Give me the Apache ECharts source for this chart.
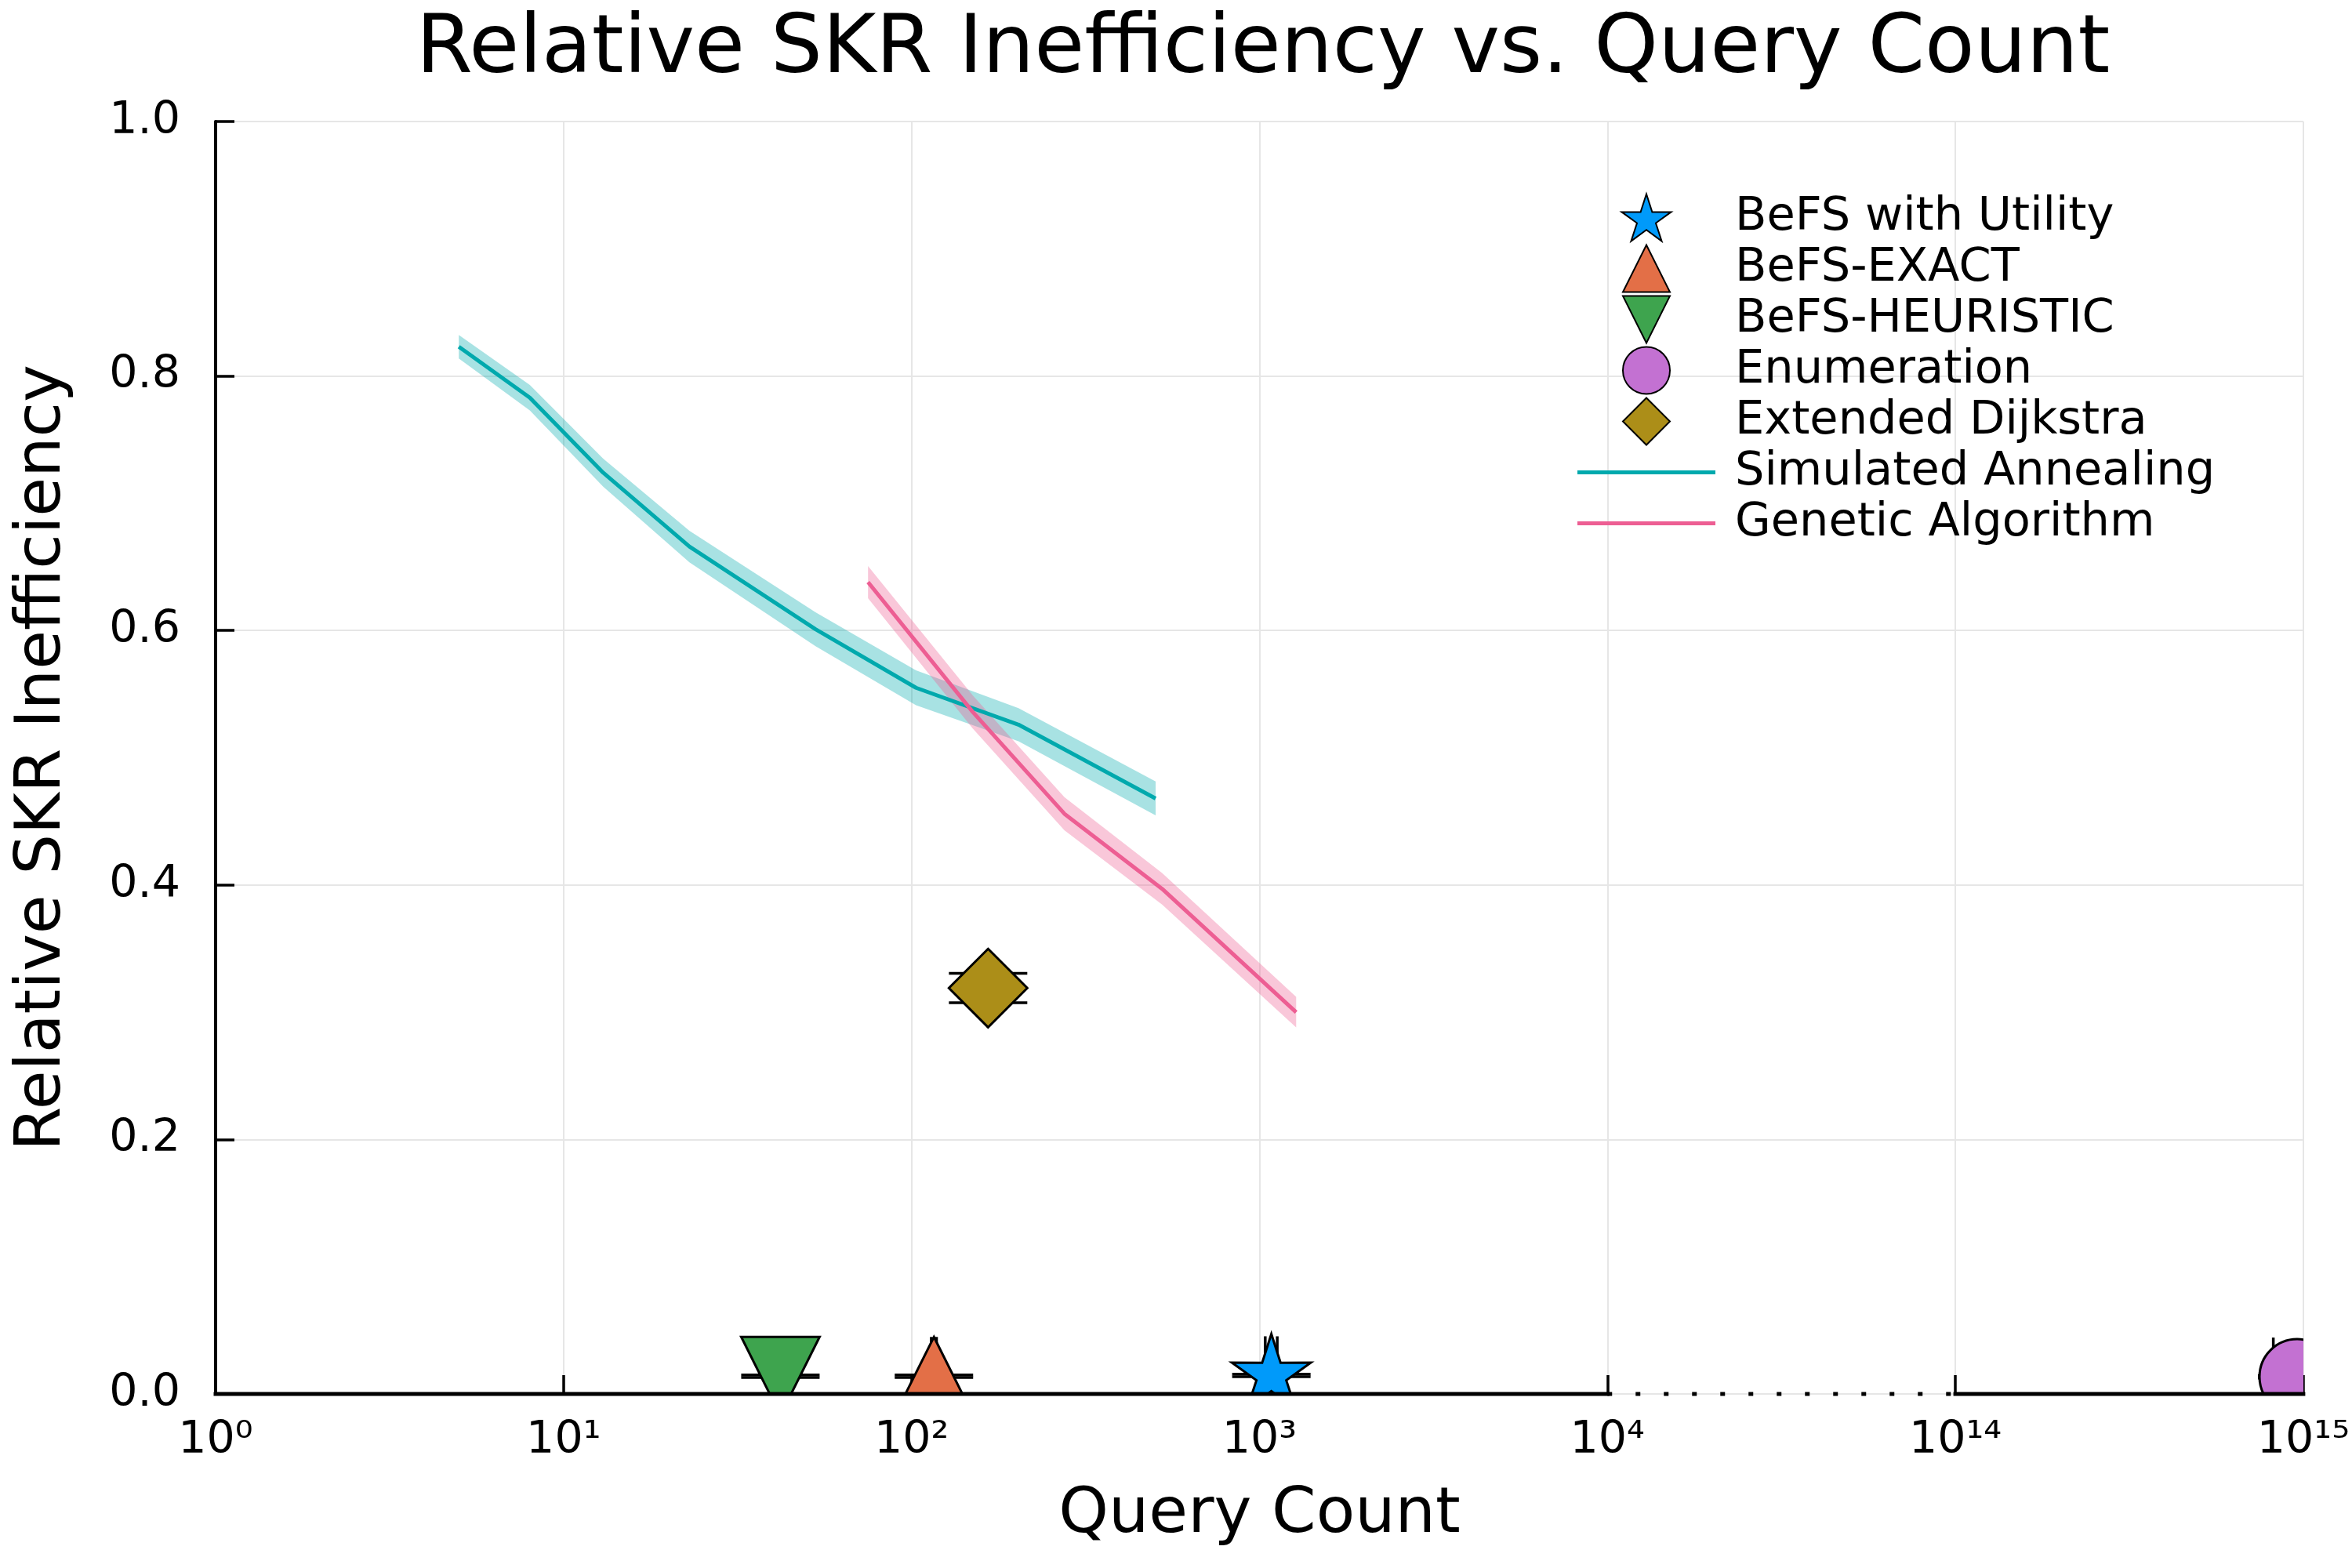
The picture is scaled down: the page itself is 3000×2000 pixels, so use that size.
<!DOCTYPE html>
<html>
    <head>
        <meta charset="utf-8">
        <title>Relative SKR Inefficiency vs. Query Count</title>
        <style>html,body{margin:0;padding:0;background:#fff}#chart{width:3000px;height:2000px}</style>
    </head>
    <body>
        <div id="chart"></div>
        <script type="text/javascript" src="https://cdn.jsdelivr.net/npm/echarts@6/dist/echarts.min.js"></script>
        <script>
            // tick labels of the broken log axis (10^4 .. 10^14 collapsed into one step)
            const tickLabels = ['10⁰', '10¹', '10²', '10³', '10⁴', '10¹⁴', '10¹⁵'];

            // Simulated Annealing: query count, mean inefficiency, ribbon half width
            const saQueries = [5, 8, 13, 23, 53, 103, 203, 503];
            const saMean = [0.823, 0.783, 0.724, 0.666, 0.601, 0.555, 0.526, 0.468];
            const saSpread = [0.0093, 0.010, 0.011, 0.0124, 0.0133, 0.0137, 0.013, 0.0133];

            // Genetic Algorithm
            const gaQueries = [75, 150, 275, 525, 1275];
            const gaMean = [0.638, 0.536, 0.456, 0.397, 0.300];
            const gaSpread = [0.0126, 0.013, 0.013, 0.0124, 0.012];

            // single-point methods
            const methodNames = ['BeFS with Utility', 'BeFS-EXACT', 'BeFS-HEURISTIC', 'Enumeration', 'Extended Dijkstra'];
            const methodQueries = [1082, 116, 42, 9.6e14, 166];
            const methodQueryErr = [43, 2, 1, 1.4e14, 0];
            const methodIneff = [0.0145, 0.014, 0.014, 0.0135, 0.319];
            const methodIneffErr = [0.001, 0.001, 0.001, 0.001, 0.0115];

            const methodColors = ['#009AFA', '#E36F47', '#3EA44E', '#C371D2', '#AC8E18'];
            const methodShapes = ['star', 'utriangle', 'dtriangle', 'circle', 'diamond'];
            const FONT = 'DejaVu Sans';

            // value -> position on the broken axis
            function toPos(v) {
                const e = Math.log10(v);
                return e <= 4 ? e : e - 9;
            }

            function starPoints(cx, cy, R, r) {
                const pts = [];
                for (let k = 0; k < 10; k++) {
                    const a = -Math.PI / 2 + k * Math.PI / 5;
                    const rad = k % 2 === 0 ? R : r;
                    pts.push([cx + rad * Math.cos(a), cy + rad * Math.sin(a)]);
                }
                return pts;
            }

            function markerShape(shape, cx, cy, style) {
                const s = 50;
                if (shape === 'circle') return { type: 'circle', shape: { cx: cx, cy: cy, r: 48 }, style: style };
                let pts;
                if (shape === 'star') pts = starPoints(cx, cy, 53, 20);
                if (shape === 'utriangle') pts = [[cx, cy - s], [cx + s, cy + s], [cx - s, cy + s]];
                if (shape === 'dtriangle') pts = [[cx - s, cy - s], [cx + s, cy - s], [cx, cy + s]];
                if (shape === 'diamond') pts = [[cx, cy - s], [cx + s, cy], [cx, cy + s], [cx - s, cy]];
                return { type: 'polygon', shape: { points: pts }, style: style };
            }

            function markerRenderer(shape, color) {
                return function (params, api) {
                    const c = api.coord([api.value(0), api.value(1)]);
                    const lo = api.coord([api.value(2), api.value(4)]);
                    const hi = api.coord([api.value(3), api.value(5)]);
                    const bar = { stroke: '#000', lineWidth: 3.5 };
                    const cap = 50;
                    const ln = (x1, y1, x2, y2) => ({ type: 'line', shape: { x1: x1, y1: y1, x2: x2, y2: y2 }, style: bar });
                    return {
                        type: 'group',
                        children: [
                            ln(c[0], lo[1], c[0], hi[1]),
                            ln(c[0] - cap, lo[1], c[0] + cap, lo[1]),
                            ln(c[0] - cap, hi[1], c[0] + cap, hi[1]),
                            ln(lo[0], c[1], hi[0], c[1]),
                            ln(lo[0], c[1] - cap, lo[0], c[1] + cap),
                            ln(hi[0], c[1] - cap, hi[0], c[1] + cap),
                            markerShape(shape, c[0], c[1], { fill: color, stroke: '#000', lineWidth: 3 })
                        ]
                    };
                };
            }

            function bandRenderer(qs, mean, spread, fill) {
                return function (params, api) {
                    const upper = qs.map((q, i) => api.coord([toPos(q), mean[i] + spread[i]]));
                    const lower = qs.map((q, i) => api.coord([toPos(q), mean[i] - spread[i]])).reverse();
                    return { type: 'polygon', shape: { points: upper.concat(lower) }, style: { fill: fill } };
                };
            }

            const starIcon = 'path://' + starPoints(0, 0, 1, 0.38)
                .map((p, i) => (i === 0 ? 'M' : 'L') + p[0].toFixed(4) + ',' + p[1].toFixed(4)).join(' ') + ' Z';
            const legendIcons = {
                star: starIcon,
                utriangle: 'path://M1,0 L2,2 L0,2 Z',
                dtriangle: 'path://M0,0 L2,0 L1,2 Z',
                circle: 'circle',
                diamond: 'path://M1,0 L2,1 L1,2 L0,1 Z'
            };
            const lineIcon = 'path://M0,0 L176,0 L176,5 L0,5 Z';

            const series = [];
            methodNames.forEach((name, i) => {
                const q = methodQueries[i], qe = methodQueryErr[i];
                const y = methodIneff[i], ye = methodIneffErr[i];
                series.push({
                    name: name,
                    type: 'custom',
                    clip: true,
                    silent: true,
                    itemStyle: { color: methodColors[i], borderColor: '#000', borderWidth: 3 },
                    renderItem: markerRenderer(methodShapes[i], methodColors[i]),
                    data: [[toPos(q), y, toPos(q - qe), toPos(q + qe), y - ye, y + ye]]
                });
            });

            series.push({
                name: 'SA band', type: 'custom', clip: true, silent: true,
                renderItem: bandRenderer(saQueries, saMean, saSpread, 'rgba(0,169,173,0.34)'),
                data: [[toPos(saQueries[0]), saMean[0]]]
            });
            series.push({
                name: 'Simulated Annealing', type: 'line', symbol: 'none', silent: true,
                lineStyle: { color: '#00A9AD', width: 5 }, itemStyle: { color: '#00A9AD' },
                data: saQueries.map((q, i) => [toPos(q), saMean[i]])
            });
            series.push({
                name: 'GA band', type: 'custom', clip: true, silent: true,
                renderItem: bandRenderer(gaQueries, gaMean, gaSpread, 'rgba(237,94,147,0.35)'),
                data: [[toPos(gaQueries[0]), gaMean[0]]]
            });
            series.push({
                name: 'Genetic Algorithm', type: 'line', symbol: 'none', silent: true,
                lineStyle: { color: '#ED5E93', width: 5 }, itemStyle: { color: '#ED5E93' },
                data: gaQueries.map((q, i) => [toPos(q), gaMean[i]])
            });
            // x axis line: solid decades, dotted across the break
            series.push({
                name: 'axis solid', type: 'line', symbol: 'none', silent: true, clip: false, connectNulls: false,
                lineStyle: { color: '#000', width: 5, cap: 'square' },
                data: [[0, 0], [4, 0], ['-', '-'], [5, 0], [6, 0]]
            });
            series.push({
                name: 'axis break', type: 'line', symbol: 'none', silent: true, clip: false,
                lineStyle: { color: '#000', width: 5, type: [6, 30], cap: 'butt' },
                data: [[4, 0], [5, 0]]
            });

            const chart = echarts.init(document.getElementById('chart'), null, { renderer: 'canvas' });
            chart.setOption({
                animation: false,
                backgroundColor: '#fff',
                textStyle: { fontFamily: FONT },
                title: {
                    text: 'Relative SKR Inefficiency vs. Query Count',
                    left: 1606, top: 8, textAlign: 'center',
                    textStyle: { fontFamily: FONT, fontSize: 104, fontWeight: 'normal', color: '#000' }
                },
                grid: { left: 275, right: 59, top: 155, bottom: 222 },
                legend: {
                    orient: 'vertical', left: 2007, top: 240,
                    itemWidth: 176, itemHeight: 60, itemGap: 0,
                    selectedMode: false, symbolKeepAspect: true,
                    textStyle: { fontFamily: FONT, fontSize: 59, color: '#000', lineHeight: 65, padding: [0, 0, 0, 20] },
                    data: methodNames.map((n, i) => ({ name: n, icon: legendIcons[methodShapes[i]] }))
                        .concat([
                            { name: 'Simulated Annealing', icon: lineIcon, itemStyle: { color: '#00A9AD', borderWidth: 0 } },
                            { name: 'Genetic Algorithm', icon: lineIcon, itemStyle: { color: '#ED5E93', borderWidth: 0 } }
                        ])
                },
                xAxis: {
                    type: 'value', min: 0, max: 6, interval: 1,
                    name: 'Query Count', nameLocation: 'middle', nameGap: 114,
                    nameTextStyle: { fontFamily: FONT, fontSize: 81, color: '#000' },
                    axisLine: { show: false },
                    axisTick: { show: true, inside: true, length: 24, lineStyle: { color: '#000', width: 3.5 } },
                    axisLabel: { fontFamily: FONT, fontSize: 57, color: '#000', margin: 32, formatter: v => tickLabels[v] },
                    splitLine: { show: true, lineStyle: { color: '#e6e6e6', width: 2 } }
                },
                yAxis: {
                    type: 'value', min: 0, max: 1, interval: 0.2,
                    name: 'Relative SKR Inefficiency', nameLocation: 'middle', nameGap: 180,
                    nameTextStyle: { fontFamily: FONT, fontSize: 81, color: '#000' },
                    axisLine: { show: true, lineStyle: { color: '#000', width: 4 } },
                    axisTick: { show: true, inside: true, length: 24, lineStyle: { color: '#000', width: 3.5 } },
                    axisLabel: { fontFamily: FONT, fontSize: 57, color: '#000', margin: 45, formatter: v => v.toFixed(1) },
                    splitLine: { show: true, lineStyle: { color: '#e6e6e6', width: 2 } }
                },
                series: series
            });
        </script>
    </body>
</html>
